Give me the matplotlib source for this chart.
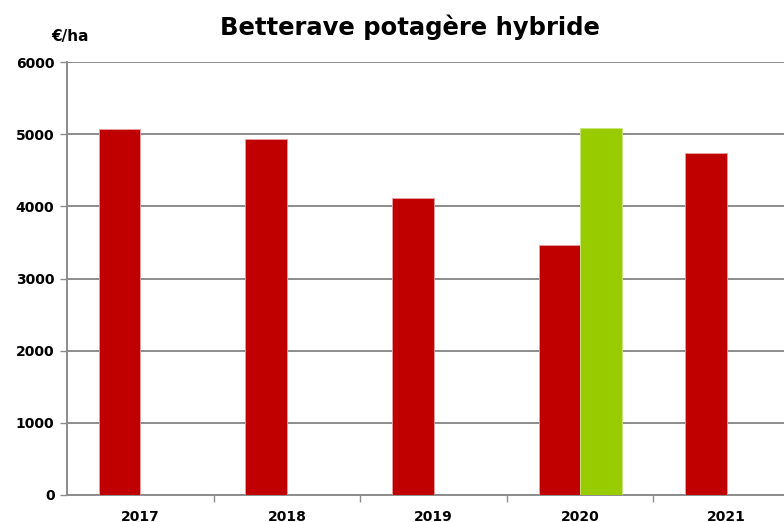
import matplotlib
matplotlib.use("Agg")
import matplotlib.pyplot as plt
import numpy as np

years = ["2017", "2018", "2019", "2020", "2021"]
series_red = [5070, 4930, 4115, 3468, 4734]
series_green = [np.nan, np.nan, np.nan, 5081, np.nan]
yticks = [0, 1000, 2000, 3000, 4000, 5000, 6000]

fig = plt.figure(figsize=(7.84, 5.22), dpi=100)
ax = fig.add_axes([67/784, 27/522, 733/784, 433/522])

x = np.arange(len(years))
w = 0.283
ax.bar(x - w/2, series_red, width=w, color="#C00000", edgecolor="#E8A0A0", linewidth=0.6, zorder=3)
ax.bar(x + w/2, series_green, width=w, color="#99CC00", edgecolor="#C8E680", linewidth=0.6, zorder=3)

ax.set_xlim(-0.5, len(years) - 0.5)
ax.set_ylim(0, 6000)
ax.set_yticks(yticks)
ax.set_yticklabels([str(v) for v in yticks], fontsize=10, fontweight="bold", family="DejaVu Sans")
ax.yaxis.grid(True, color="#8C8C8C", linewidth=1.4, zorder=0)
ax.set_axisbelow(True)

ax.set_xticks(np.arange(0.5, len(years) - 0.5, 1.0))
ax.set_xticklabels([])
ax.set_xticks(x, minor=True)
ax.set_xticklabels(years, minor=True, fontsize=10, fontweight="bold", family="DejaVu Sans")
ax.tick_params(axis="x", which="major", length=5, color="#8C8C8C", width=1)
ax.tick_params(axis="x", which="minor", length=0, pad=11)
ax.tick_params(axis="y", length=5, color="#8C8C8C", width=1, pad=4)

for s in ["top", "right"]:
    ax.spines[s].set_visible(False)
for s in ["left", "bottom"]:
    ax.spines[s].set_color("#8C8C8C")
    ax.spines[s].set_linewidth(1.4)

fig.text(0.523, 0.947, "Betterave potagère hybride", ha="center", va="center",
         fontsize=17.5, fontweight="bold", family="DejaVu Sans")
fig.text(0.066, 0.93, "€/ha", ha="left", va="center", fontsize=11,
         fontweight="bold", family="DejaVu Sans")

fig.savefig("out.png", dpi=100)
